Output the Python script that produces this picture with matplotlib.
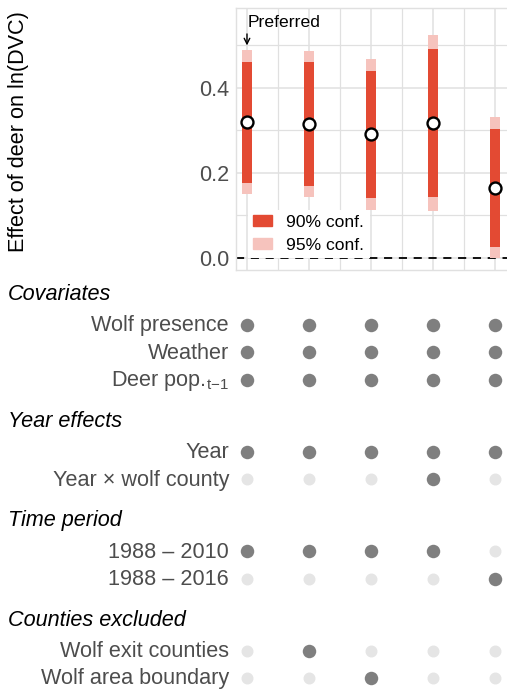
import matplotlib
matplotlib.use("Agg")
import matplotlib.pyplot as plt
from matplotlib.patches import Patch

plt.rcParams['font.family'] = ['Liberation Sans', 'DejaVu Sans']
plt.rcParams['mathtext.fontset'] = 'custom'
plt.rcParams['mathtext.rm'] = 'Liberation Sans'
plt.rcParams['mathtext.it'] = 'Liberation Sans:italic'

# model estimates: effect of deer on ln(DVC)
models = [1, 2, 3, 4, 5]
estimate = [0.319, 0.315, 0.291, 0.318, 0.165]
lo90 = [0.177, 0.170, 0.140, 0.144, 0.027]
hi90 = [0.462, 0.460, 0.441, 0.492, 0.304]
lo95 = [0.151, 0.143, 0.113, 0.111, 0.001]
hi95 = [0.489, 0.487, 0.468, 0.525, 0.331]

# specification table (1 = included)
groups = ["Covariates", "Year effects", "Time period", "Counties excluded"]
rows = [
    ["Wolf presence", "Weather", "Deer pop.$_{\\mathrm{t{\u2212}1}}$"],
    ["Year", "Year \u00d7 wolf county"],
    ["1988 \u2013 2010", "1988 \u2013 2016"],
    ["Wolf exit counties", "Wolf area boundary"],
]
spec = [
    [[1, 1, 1, 1, 1], [1, 1, 1, 1, 1], [1, 1, 1, 1, 1]],
    [[1, 1, 1, 1, 1], [0, 0, 0, 1, 0]],
    [[1, 1, 1, 1, 0], [0, 0, 0, 0, 1]],
    [[0, 1, 0, 0, 0], [0, 0, 1, 0, 0]],
]

RED = "#E34A33"
PINK = "#F6C3BD"
GRID = "#E0E0E0"
LABEL = "#4D4D4D"
DARK = "#7F7F7F"
LIGHT = "#E5E5E5"
FS = 15.6

W, H = 507, 698
fig = plt.figure(figsize=(W / 100, H / 100), dpi=100)

# ---- top panel: estimates ----
ax = fig.add_axes([236 / W, 1 - 270 / H, 271 / W, 262 / H])
ax.set_xlim(0.823, 5.19)
ax.set_ylim(-0.0282, 0.588)
ax.set_xticks(models)
ax.set_xticks([1.5, 2.5, 3.5, 4.5], minor=True)
ax.set_yticks([0.0, 0.2, 0.4])
ax.set_yticks([0.1, 0.3, 0.5], minor=True)
ax.set_yticklabels(["0.0", "0.2", "0.4"])
ax.set_xticklabels([])
ax.tick_params(which='both', length=0)
ax.tick_params(axis='y', labelsize=FS, labelcolor=LABEL, pad=5)
ax.grid(True, which='major', color=GRID, lw=1.1)
ax.grid(True, which='minor', color=GRID, lw=0.9)
ax.set_axisbelow(True)
for s in ax.spines.values():
    s.set_color(GRID)
    s.set_linewidth(1.0)
ax.spines['right'].set_visible(False)

ax.axhline(0, color='black', lw=1.3, ls=(0, (4.5, 3.7)), zorder=1)

bw = 0.16
h95 = [h - l for h, l in zip(hi95, lo95)]
h90 = [h - l for h, l in zip(hi90, lo90)]
ax.bar(models, h95, bottom=lo95, width=bw, color=PINK, zorder=2)
ax.bar(models, h90, bottom=lo90, width=bw, color=RED, zorder=3)
ax.plot(models, estimate, 'o', ms=8.6, mfc='white', mec='black', mew=1.7,
        ls='none', zorder=4)

ax.set_ylabel("Effect of deer on ln(DVC)", fontsize=FS, color='black')
ax.yaxis.set_label_coords(-0.765, 0.53)

ax.annotate("", xy=(models[0], 0.500), xytext=(models[0], 0.527),
            arrowprops=dict(arrowstyle='->', lw=1.0, color='black',
                            shrinkA=0, shrinkB=0))
ax.text(models[0] + 0.01, 0.543, "Preferred", fontsize=12.6, va='baseline')

leg = ax.legend(handles=[Patch(color=RED, label="90% conf."),
                         Patch(color=PINK, label="95% conf.")],
                loc='lower left', bbox_to_anchor=(0.044, 0.045),
                fontsize=12.6, frameon=True, facecolor='white',
                edgecolor='none', framealpha=1, fancybox=False,
                handlelength=1.1, handleheight=0.58, handletextpad=0.8,
                labelspacing=0.45, borderpad=0.3, borderaxespad=0)
leg.set_zorder(5)

# ---- bottom panel: specification table ----
ax2 = fig.add_axes([236 / W, 0, 271 / W, 1 - 280 / H])
ax2.set_xlim(ax.get_xlim())
ax2.set_ylim(H, 280)
ax2.axis('off')

head_y = 293.0
row_step = 27.4
head_gap = 32.0
group_gap = 40.0

y = head_y
for gi, name in enumerate(groups):
    ax2.annotate(name, xy=(8 / W, y + 7), xycoords=('figure fraction', 'data'),
                 fontsize=FS, style='italic', color='black', va='baseline',
                 ha='left', annotation_clip=False)
    y += head_gap
    for ri, label in enumerate(rows[gi]):
        ax2.annotate(label, xy=(0, y + 6.5), xycoords=('axes fraction', 'data'),
                     xytext=(-5, 0), textcoords='offset points',
                     fontsize=FS, color=LABEL, va='baseline', ha='right',
                     annotation_clip=False)
        flags = spec[gi][ri]
        on = [m for m, f in zip(models, flags) if f]
        off = [m for m, f in zip(models, flags) if not f]
        ax2.scatter(off, [y] * len(off), s=74, color=LIGHT, lw=0, clip_on=False)
        ax2.scatter(on, [y] * len(on), s=94, color=DARK, lw=0, clip_on=False)
        if ri < len(rows[gi]) - 1:
            y += row_step
    y += group_gap

fig.savefig("out.png", dpi=100)
